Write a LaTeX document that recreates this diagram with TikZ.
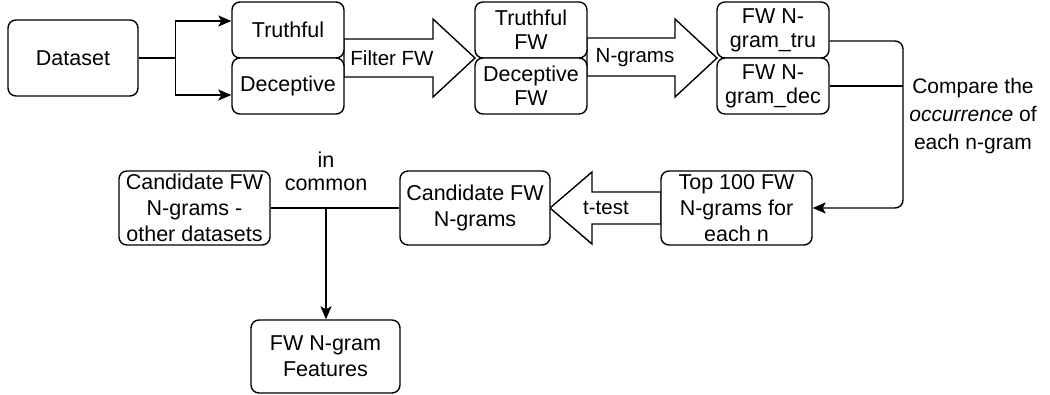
\documentclass[tikz,border=0pt]{standalone}
\usepackage{fontspec}
\setmainfont{Liberation Sans}
\usetikzlibrary{arrows.meta}
\begin{document}
\begin{tikzpicture}[x=1pt,y=-1pt,
  txt/.style={font=\fontsize{21.5}{26}\selectfont, align=center, inner sep=0pt},
  box/.style={txt, draw, fill=white, rounded corners=8pt, line width=1.4pt},
  conn/.style={line width=1.4pt},
  arr/.style={conn, -{Stealth[length=13pt,width=11pt,inset=3pt]}},
  blockarrow/.style={draw, fill=white, line width=1.4pt, line join=miter}]
\useasboundingbox (0,0) rectangle (1050,395);

% block arrows (drawn first, boxes on top)
\draw[blockarrow] (344,39) -- (433,39) -- (433,19) -- (475,58) -- (433,97) -- (433,77) -- (344,77) -- cycle;
\draw[blockarrow] (587,38) -- (675,38) -- (675,19) -- (717,58) -- (675,97) -- (675,76) -- (587,76) -- cycle;
\draw[blockarrow] (661,192) -- (592,192) -- (592,172) -- (550,208) -- (592,244) -- (592,224) -- (661,224) -- cycle;

% boxes
\node[box, minimum width=130pt, minimum height=76pt] (dataset) at (73,58) {Dataset};
\node[box, minimum width=112pt, minimum height=56pt] (truth) at (288,30) {Truthful};
\node[box, minimum width=112pt, minimum height=56pt] (dec) at (288,86) {Deceptive};
\node[box, minimum width=112pt, minimum height=56pt, font=\fontsize{21.5}{24}\selectfont] (tfw) at (531,30) {Truthful\\FW};
\node[box, minimum width=112pt, minimum height=56pt, font=\fontsize{21.5}{24}\selectfont] (dfw) at (531,86) {Deceptive\\FW};
\node[box, minimum width=112pt, minimum height=56pt, font=\fontsize{21.5}{24}\selectfont] (tru) at (773,30) {FW N-\\gram\_tru};
\node[box, minimum width=112pt, minimum height=56pt, font=\fontsize{21.5}{24}\selectfont] (dng) at (773,86) {FW N-\\gram\_dec};
\node[box, minimum width=151pt, minimum height=74pt] (top) at (736.5,208) {Top 100 FW\\N-grams for\\each n};
\node[box, minimum width=150pt, minimum height=74pt] (cand) at (475,208) {Candidate FW\\N-grams};
\node[box, minimum width=151pt, minimum height=74pt] (other) at (194.5,208) {Candidate FW\\N-grams -\\other datasets};
\node[box, minimum width=149pt, minimum height=73pt] (feat) at (325.5,356.5) {FW N-gram\\Features};

% block arrow labels
\node[txt, font=\fontsize{20.5}{24}\selectfont] (lfilter) at (392,58) {Filter FW};
\node[txt, font=\fontsize{20.5}{24}\selectfont] (lngram) at (635,58) {N-grams};
\node[txt, font=\fontsize{20.5}{24}\selectfont] (lttest) at (606,208) {t-test};

% connectors
\draw[arr] (dataset.east) -- ++(37,0) |- ([yshift=9pt]truth.west);
\draw[arr] (dataset.east) -- ++(37,0) |- ([yshift=-9pt]dec.west);

\coordinate (cx) at (903,86);
\draw[arr, rounded corners=8pt] ([yshift=-11pt]tru.east) -| (cx) |- (top.east);
\draw[conn] (dng.east) -- (cx);
\node[txt, font=\fontsize{21}{28}\selectfont] (lcomp) at (973,116) {Compare the\\\textit{occurrence} of\\each n-gram};

\draw[conn] (other.east) -- (cand.west);
\coordinate (j) at (326,208);
\draw[arr] (j) -- (j |- feat.north);
\node[txt, font=\fontsize{21.5}{23}\selectfont] (lcommon) at (326,171) {in\\common};
\end{tikzpicture}
\end{document}
